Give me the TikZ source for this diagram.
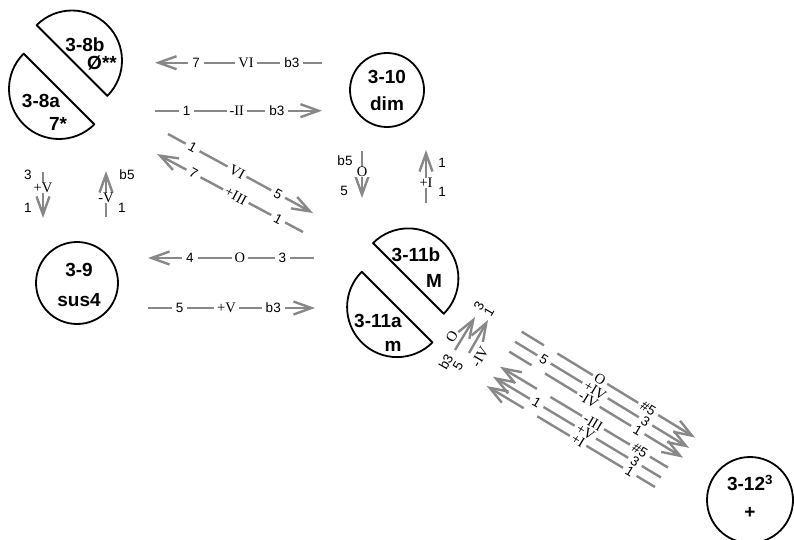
\documentclass[tikz,border=0pt]{standalone}
\usepackage{fontspec}
\setmainfont{Liberation Serif}
\setsansfont{Liberation Sans}
\usetikzlibrary{arrows.meta}
\definecolor{linegray}{RGB}{136,136,136}
\begin{document}
\begin{tikzpicture}[x=1pt,y=1pt,
  chordtxt/.style={font=\sffamily\bfseries\fontsize{19}{21}\selectfont, inner sep=0pt},
  fullcirc/.style={circle, draw=black, line width=1.8pt, inner sep=0pt},
  halfdisc/.style={draw=black, line width=1.8pt, line join=round},
  conn/.style={draw=linegray, line width=2.4pt},
  arr/.style={conn, -{Straight Barb[length=18pt,width=13pt]}},
  num/.style={font=\sffamily\fontsize{13.5}{13.5}\selectfont, fill=white, inner xsep=4pt, inner ysep=0pt},
  rom/.style={font=\rmfamily\fontsize{14.5}{14.5}\selectfont, fill=white, inner xsep=3pt, inner ysep=0pt},
  gap/.style={fill=white, inner xsep=4pt, inner ysep=0pt, font=\sffamily\fontsize{13.5}{13.5}\selectfont},
  side/.style={font=\sffamily\fontsize{13.5}{13.5}\selectfont, inner sep=0pt},
  sideR/.style={font=\rmfamily\fontsize{14.5}{14.5}\selectfont, inner sep=0pt},
]
\useasboundingbox (0,0) rectangle (794,-539);

% ---------- split node 3-8 ----------
\coordinate (c38b) at (72,-60.5);
\coordinate (c38a) at (59,-89);
\draw[halfdisc] (c38b) ++(-45:50) arc[start angle=-45,end angle=135,radius=50] -- cycle;
\draw[halfdisc] (c38a) ++(135:50) arc[start angle=135,end angle=315,radius=50] -- cycle;
\node[chordtxt] (n38b) at (85,-45) {3-8b};
\node[chordtxt] (n38bq) at (102,-63) {Ø**};
\node[chordtxt] (n38a) at (41,-101) {3-8a};
\node[chordtxt] (n38aq) at (58,-124) {7*};

% ---------- split node 3-11 ----------
\coordinate (c311b) at (408.4,-278.4);
\coordinate (c311a) at (397.1,-307.1);
\draw[halfdisc] (c311b) ++(-45:50) arc[start angle=-45,end angle=135,radius=50] -- cycle;
\draw[halfdisc] (c311a) ++(135:50) arc[start angle=135,end angle=315,radius=50] -- cycle;
\node[chordtxt] (n311b) at (416,-255) {3-11b};
\node[chordtxt] (n311bq) at (434,-281) {M};
\node[chordtxt] (n311a) at (378,-321) {3-11a};
\node[chordtxt] (n311aq) at (393,-346) {m};

% ---------- whole nodes ----------
\node[fullcirc, minimum size=74pt] (n310) at (387,-90) {};
\node[chordtxt] (n310t) at (387,-77) {3-10};
\node[chordtxt] (n310q) at (387,-104) {dim};

\node[fullcirc, minimum size=82pt] (n39) at (77,-283) {};
\node[chordtxt] (n39t) at (79,-270) {3-9};
\node[chordtxt] (n39q) at (79,-300) {sus4};

\node[fullcirc, minimum size=86pt] (n312) at (750,-500) {};
\node[chordtxt] (n312t) at (750,-483) {3-12\textsuperscript{3}};
\node[chordtxt] (n312q) at (750,-513) {+};

% ---------- horizontal transitions ----------
\coordinate (a1s) at (322,-62.7);  \coordinate (a1e) at (155,-62.7);
\draw[arr] (a1s) -- (a1e) node[num,pos=.18]{b3} node[rom,pos=.455]{VI} node[num,pos=.754]{7};
\coordinate (a2s) at (155,-110.7); \coordinate (a2e) at (322,-110.7);
\draw[arr] (a2s) -- (a2e) node[num,pos=.19]{1} node[rom,pos=.49]{-II} node[num,pos=.73]{b3};
\coordinate (a9s) at (314,-258);   \coordinate (a9e) at (148,-258);
\draw[arr] (a9s) -- (a9e) node[num,pos=.19]{3} node[rom,pos=.446]{O} node[num,pos=.747]{4};
\coordinate (a10s) at (148,-308);  \coordinate (a10e) at (315,-308);
\draw[arr] (a10s) -- (a10e) node[num,pos=.19]{5} node[rom,pos=.47]{+V} node[num,pos=.75]{b3};

% ---------- diagonal transitions 3-8 / 3-11 ----------
\coordinate (a3s) at (168,-134);   \coordinate (a3e) at (313,-213);
\draw[arr] (a3s) -- (a3e) node[num,sloped,pos=.17]{1} node[rom,sloped,pos=.476]{VI} node[num,sloped,pos=.76]{5};
\coordinate (a4s) at (303,-232);   \coordinate (a4e) at (157,-154);
\draw[arr] (a4s) -- (a4e) node[num,sloped,pos=.17]{1} node[rom,sloped,pos=.46]{+III} node[num,sloped,pos=.75]{7};

% ---------- vertical transitions ----------
\coordinate (a5s) at (43,-172);    \coordinate (a5e) at (43,-218);
\draw[arr] (a5s) -- (a5e) node[rom,pos=.35]{+V};
\node[side] (l5a) at (28,-175) {3};
\node[side] (l5b) at (28,-208) {1};
\coordinate (a6s) at (106,-217);   \coordinate (a6e) at (106,-171);
\draw[arr] (a6s) -- (a6e) node[rom,pos=.41]{-V};
\node[side] (l6a) at (127,-175) {b5};
\node[side] (l6b) at (122,-208) {1};
\coordinate (a7s) at (362,-151);   \coordinate (a7e) at (362,-198);
\draw[arr] (a7s) -- (a7e) node[rom,pos=.45]{O};
\node[side] (l7a) at (345,-161) {b5};
\node[side] (l7b) at (344,-191) {5};
\coordinate (a8s) at (426,-203);   \coordinate (a8e) at (426,-150);
\draw[arr] (a8s) -- (a8e) node[rom,pos=.38]{+I};
\node[side] (l8a) at (442,-163) {1};
\node[side] (l8b) at (442,-192) {1};

% ---------- short transitions 3-11a -> 3-11b ----------
\coordinate (a11s) at (455,-350);  \coordinate (a11e) at (475,-317);
\draw[arr] (a11s) -- (a11e);
\node[sideR, rotate=60] (l11m) at (452,-337) {O};
\node[side, rotate=60] (l11a) at (446,-362) {b3};
\node[side, rotate=60] (l11b) at (479,-306) {3};
\coordinate (a12s) at (469,-353);  \coordinate (a12e) at (488,-320);
\draw[arr] (a12s) -- (a12e);
\node[sideR, rotate=60] (l12m) at (480,-357) {-IV};
\node[side, rotate=60] (l12a) at (458,-366) {5};
\node[side, rotate=60] (l12b) at (489,-312) {1};

% ---------- bundle 3-11 -> 3-12 ----------
\coordinate (b1s) at (521.7,-331.7); \coordinate (b1e) at (695,-437.5);
\coordinate (b2s) at (515,-341.7);   \coordinate (b2e) at (689,-447.8);
\coordinate (b3s) at (509.3,-351.7); \coordinate (b3e) at (683,-457.6);
\draw[arr] (b1s) -- (b1e) node[gap,sloped,pos=.167]{\phantom{5}} node[rom,sloped,pos=.452]{O} node[num,sloped,pos=.73]{\#5};
\draw[arr] (b2s) -- (b2e) node[num,sloped,pos=.167]{5} node[rom,sloped,pos=.46]{+IV} node[num,sloped,pos=.75]{3};
\draw[arr] (b3s) -- (b3e) node[gap,sloped,pos=.167]{\phantom{5}} node[rom,sloped,pos=.455]{-IV} node[num,sloped,pos=.74]{1};

% ---------- bundle 3-12 -> 3-11 ----------
\coordinate (d1s) at (668,-467.5); \coordinate (d1e) at (500,-366.7);
\coordinate (d2s) at (661,-477.5); \coordinate (d2e) at (493,-376.7);
\coordinate (d3s) at (655,-487);   \coordinate (d3e) at (486.7,-386);
\draw[arr] (d1s) -- (d1e) node[num,sloped,pos=.167]{\#5} node[rom,sloped,pos=.446]{-III} node[gap,sloped,pos=.74]{\phantom{1}};
\draw[arr] (d2s) -- (d2e) node[num,sloped,pos=.155]{3} node[rom,sloped,pos=.45]{+V} node[num,sloped,pos=.74]{1};
\draw[arr] (d3s) -- (d3e) node[num,sloped,pos=.15]{1} node[rom,sloped,pos=.457]{+I} node[gap,sloped,pos=.74]{\phantom{1}};
\end{tikzpicture}
\end{document}
